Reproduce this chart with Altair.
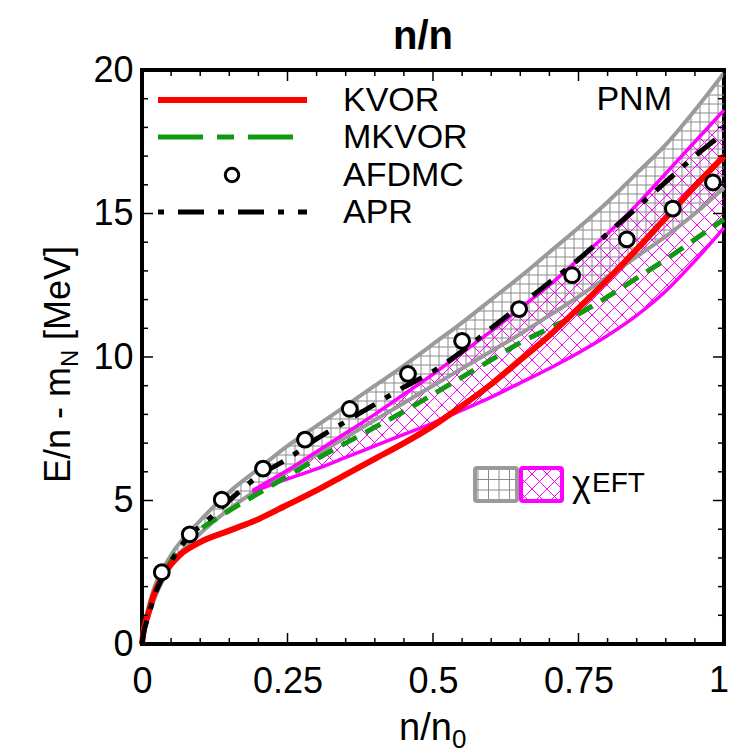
import altair as alt
import numpy as np
import pandas as pd

W, H = 582, 574
YMAX = 20.0
FONT = "Liberation Sans"

# ---------------- data ----------------
kvor_x = [0.0, 0.003, 0.01, 0.02, 0.04, 0.065, 0.1, 0.15, 0.2, 0.25, 0.3, 0.35, 0.4, 0.45,
          0.5, 0.55, 0.6, 0.65, 0.7, 0.75, 0.8, 0.85, 0.9, 0.95, 1.0]
kvor_y = [0.0, 0.5, 1.0, 1.7, 2.5, 3.1, 3.55, 3.95, 4.35, 4.85, 5.35, 5.9, 6.45, 7.0,
          7.6, 8.3, 9.05, 9.9, 10.75, 11.7, 12.7, 13.75, 14.85, 15.95, 17.0]

mkvor_x = [0.0, 0.003, 0.01, 0.02, 0.04, 0.06, 0.08, 0.1, 0.15, 0.2, 0.25, 0.3, 0.35, 0.4,
           0.45, 0.5, 0.55, 0.6, 0.65, 0.7, 0.75, 0.8, 0.85, 0.9, 0.95, 1.0]
mkvor_y = [0.0, 0.5, 1.0, 1.7, 2.55, 3.2, 3.7, 4.0, 4.65, 5.25, 5.85, 6.45, 7.0, 7.55,
           8.1, 8.7, 9.3, 9.9, 10.5, 11.0, 11.5, 12.1, 12.75, 13.4, 14.1, 14.8]

apr_x = [0.0, 0.003, 0.01, 0.02, 0.04, 0.06, 0.08, 0.1, 0.12, 0.15, 0.2, 0.25, 0.3, 0.35,
         0.4, 0.45, 0.5, 0.55, 0.6, 0.65, 0.7, 0.75, 0.8, 0.85, 0.9, 0.95, 1.0]
apr_y = [0.0, 0.4, 0.9, 1.6, 2.5, 3.2, 3.75, 4.1, 4.45, 5.0, 5.85, 6.45, 7.15, 7.75,
         8.35, 8.95, 9.5, 10.2, 11.0, 11.8, 12.6, 13.4, 14.3, 15.2, 16.1, 17.0, 17.8]

afdmc_x = [0.034, 0.082, 0.137, 0.208, 0.280, 0.357, 0.457, 0.550, 0.648, 0.739, 0.833, 0.912, 0.981]
afdmc_y = [2.50, 3.82, 5.03, 6.11, 7.12, 8.19, 9.41, 10.56, 11.67, 12.85, 14.10, 15.17, 16.08]

# chiEFT band 1 (grey, grid hatch)
gray_x = [0.0, 0.005, 0.01, 0.02, 0.05, 0.1, 0.15, 0.2, 0.25, 0.3, 0.35, 0.4, 0.45, 0.5,
          0.55, 0.6, 0.65, 0.7, 0.75, 0.8, 0.85, 0.9, 0.95, 1.0]
gray_lo = [0.0, 0.5, 0.9, 1.5, 2.75, 3.85, 4.7, 5.4, 6.0, 6.6, 7.2, 7.8, 8.4, 9.0,
           9.6, 10.2, 10.8, 11.45, 12.1, 12.8, 13.5, 14.2, 15.0, 15.9]
gray_hi = [0.0, 0.7, 1.2, 1.9, 3.1, 4.3, 5.3, 6.1, 6.9, 7.6, 8.3, 9.0, 9.7, 10.45,
           11.2, 12.0, 12.8, 13.65, 14.5, 15.4, 16.4, 17.4, 18.6, 19.9]

# chiEFT band 2 (magenta, cross hatch)
mag_x = [0.19, 0.25, 0.3, 0.35, 0.4, 0.45, 0.5, 0.55, 0.6, 0.65, 0.7, 0.75, 0.8, 0.85,
         0.9, 0.95, 1.0]
mag_lo = [5.3, 5.75, 6.1, 6.5, 6.9, 7.3, 7.7, 8.15, 8.6, 9.1, 9.6, 10.15, 10.75, 11.45,
          12.3, 13.35, 14.5]
mag_hi = [5.35, 6.05, 6.7, 7.35, 8.0, 8.7, 9.4, 10.15, 10.9, 11.7, 12.5, 13.4, 14.3, 15.3,
          16.4, 17.5, 18.6]

x_major = [0, 0.25, 0.5, 0.75, 1]
x_major_labels = ["0", "0.25", "0.5", "0.75", "1"]
x_minor = [0.05, 0.1, 0.15, 0.2, 0.3, 0.35, 0.4, 0.45, 0.55, 0.6, 0.65, 0.7, 0.8, 0.85, 0.9, 0.95]
y_major = [0, 5, 10, 15, 20]
y_minor = [1, 2, 3, 4, 6, 7, 8, 9, 11, 12, 13, 14, 16, 17, 18, 19]

legend_labels = ["KVOR", "MKVOR", "AFDMC", "APR"]

# ---------------- styling ----------------
RED = "#ff0000"
GREEN = "#119911"
GRAY = "#9a9a9a"
GRAY_HATCH = "#8a8a8a"
MAG = "#ff00ff"

XS = alt.Scale(domain=[0, 1], nice=False, zero=False)
YS = alt.Scale(domain=[0, YMAX], nice=False, zero=False)
XAX = alt.Axis(values=x_major[:-1], labelExpr="format(datum.value, '.2~f')", title=None,
               ticks=False, domain=False, grid=False,
               labelFontSize=36, labelFont=FONT, labelColor="black", labelPadding=20,
               labelFlush=False, labelOverlap=False)
YAX = alt.Axis(values=y_major, format="d", title=None, ticks=False, domain=False, grid=False,
               labelFontSize=36, labelFont=FONT, labelColor="black", labelPadding=9,
               labelFlush=False, labelOverlap=False)


def X(f):
    return alt.X(f, type="quantitative", scale=XS, axis=XAX)


def Y(f):
    return alt.Y(f, type="quantitative", scale=YS, axis=YAX)


# ---------------- hatch helpers (pixel space) ----------------
def runs_segments(Xp, Yl, LO, HI):
    segs = []
    m = (Yl >= LO) & (Yl <= HI)
    if not m.any():
        return segs
    idx = np.flatnonzero(m)
    br = np.where(np.diff(idx) > 1)[0]
    starts = np.r_[idx[0], idx[br + 1]]
    ends = np.r_[idx[br], idx[-1]]
    for s, e in zip(starts, ends):
        if e > s:
            segs.append((Xp[s], Yl[s], Xp[e], Yl[e]))
    return segs


def band_px(xd, lo, hi):
    xa = np.array(xd) * W
    Xp = np.linspace(xa[0], xa[-1], 4000)
    LO = np.interp(Xp, xa, np.array(lo) * H / YMAX)
    HI = np.interp(Xp, xa, np.array(hi) * H / YMAX)
    return Xp, LO, HI


def grid_hatch(Xp, LO, HI, step):
    segs = []
    for c in np.arange(step, H + W, step):
        segs += runs_segments(Xp, np.full_like(Xp, c), LO, HI)
    for k in np.arange(step, Xp[-1], step):
        if k < Xp[0]:
            continue
        lo = np.interp(k, Xp, LO)
        hi = np.interp(k, Xp, HI)
        if hi > lo:
            segs.append((k, lo, k, hi))
    return segs


def diag_hatch(Xp, LO, HI, step):
    segs = []
    for c in np.arange(-W - H, W + H, step):
        segs += runs_segments(Xp, Xp + c, LO, HI)
        segs += runs_segments(Xp, -Xp + c, LO, HI)
    return segs


def to_data(segs):
    return pd.DataFrame([
        {"x": a / W, "y": b * YMAX / H, "x2": c / W, "y2": d * YMAX / H}
        for a, b, c, d in segs
    ])


def legend_box_to_data(segs):
    # pixel coords with y measured downward from plot top
    return pd.DataFrame([
        {"x": a / W, "y": YMAX - b * YMAX / H, "x2": c / W, "y2": YMAX - d * YMAX / H}
        for a, b, c, d in segs
    ])


def hatch_layer(df, color, width=1.0):
    return alt.Chart(df).mark_rule(color=color, strokeWidth=width).encode(
        x=X("x"), y=Y("y"), x2="x2", y2="y2")


gXp, gLO, gHI = band_px(gray_x, gray_lo, gray_hi)
mXp, mLO, mHI = band_px(mag_x, mag_lo, mag_hi)
gray_hatch_df = to_data(grid_hatch(gXp, gLO, gHI, 9))
mag_hatch_df = to_data(diag_hatch(mXp, mLO, mHI, 15))

# legend swatch boxes (pixel, y down)
GB = (333, 375, 398, 431)
MB = (379, 420, 398, 431)
bx = np.linspace(GB[0], GB[1], 800)
gb_segs = grid_hatch(bx, np.full_like(bx, GB[2]), np.full_like(bx, GB[3]), 10.5)
mx = np.linspace(MB[0], MB[1], 800)
mb_segs = diag_hatch(mx, np.full_like(mx, MB[2]), np.full_like(mx, MB[3]), 15)

layers = []
layers.append(hatch_layer(gray_hatch_df, GRAY_HATCH, 1.0))
layers.append(hatch_layer(mag_hatch_df, MAG, 1.0))


def line_layer(xs, ys, color, width, dash=None, interp="monotone"):
    df = pd.DataFrame({"x": xs, "y": ys})
    kw = dict(color=color, strokeWidth=width, interpolate=interp)
    if dash:
        kw["strokeDash"] = dash
    return alt.Chart(df).mark_line(**kw).encode(x=X("x"), y=Y("y"))


layers.append(line_layer(gray_x, gray_lo, GRAY, 4))
layers.append(line_layer(gray_x, gray_hi, GRAY, 4))
layers.append(line_layer(mag_x, mag_lo, MAG, 3.5))
layers.append(line_layer(mag_x, mag_hi, MAG, 3.5))
layers.append(line_layer(mkvor_x, mkvor_y, GREEN, 5, dash=[17, 10]))
layers.append(line_layer(kvor_x, kvor_y, RED, 6))
layers.append(line_layer(apr_x, apr_y, "black", 5, dash=[24, 12, 6, 12]))

afdmc_df = pd.DataFrame({"x": afdmc_x, "y": afdmc_y})
layers.append(alt.Chart(afdmc_df).mark_point(shape="circle", filled=True, fill="white",
                                             stroke="black", strokeWidth=3, size=220,
                                             opacity=1).encode(x=X("x"), y=Y("y")))


# ---- ticks (inward, on all four sides) ----
def tick_layer(vals, axis, length):
    df = pd.DataFrame({"v": vals})
    out = []
    if axis == "x":
        out.append(alt.Chart(df).mark_rule(color="black", strokeWidth=1.5).encode(
            x=X("v"), y=alt.value(H), y2=alt.value(H - length)))
        out.append(alt.Chart(df).mark_rule(color="black", strokeWidth=1.5).encode(
            x=X("v"), y=alt.value(0), y2=alt.value(length)))
    else:
        out.append(alt.Chart(df).mark_rule(color="black", strokeWidth=1.5).encode(
            y=Y("v"), x=alt.value(0), x2=alt.value(length)))
        out.append(alt.Chart(df).mark_rule(color="black", strokeWidth=1.5).encode(
            y=Y("v"), x=alt.value(W), x2=alt.value(W - length)))
    return out


layers += tick_layer(x_major, "x", 11)
layers += tick_layer(x_minor, "x", 6)
layers += tick_layer(y_major, "y", 11)
layers += tick_layer(y_minor, "y", 6)

one = pd.DataFrame({"a": [0]})

# last x tick label, kept inside the picture
layers.append(alt.Chart(one).mark_text(text=x_major_labels[-1], align="right", baseline="top",
                                       font=FONT, fontSize=36, color="black").encode(
    x=alt.value(W + 5), y=alt.value(H + 20)))

# ---- legend (top-left) ----
LX0, LX1 = 16, 165
rows_y = [30, 67, 105, 142]
layers.append(alt.Chart(one).mark_rule(color=RED, strokeWidth=6).encode(
    x=alt.value(LX0), x2=alt.value(LX1), y=alt.value(rows_y[0])))
layers.append(alt.Chart(one).mark_rule(color=GREEN, strokeWidth=5, strokeDash=[45, 14, 17, 14]).encode(
    x=alt.value(LX0), x2=alt.value(155), y=alt.value(rows_y[1])))
layers.append(alt.Chart(one).mark_point(shape="circle", filled=True, fill="white", stroke="black",
                                        strokeWidth=3, size=180, opacity=1).encode(
    x=alt.value(90), y=alt.value(rows_y[2])))
layers.append(alt.Chart(one).mark_rule(color="black", strokeWidth=5, strokeDash=[6, 14, 26, 14]).encode(
    x=alt.value(LX0), x2=alt.value(LX1), y=alt.value(rows_y[3])))
for lab, yy in zip(legend_labels, rows_y):
    layers.append(alt.Chart(one).mark_text(text=lab, align="left", baseline="middle", font=FONT,
                                           fontSize=34, color="black").encode(
        x=alt.value(201), y=alt.value(yy + 1)))

layers.append(alt.Chart(one).mark_text(text="PNM", align="right", baseline="middle", font=FONT,
                                       fontSize=34, color="black").encode(
    x=alt.value(530), y=alt.value(30)))

# chiEFT swatches
layers.append(alt.Chart(one).mark_rect(fill="white").encode(
    x=alt.value(GB[0]), x2=alt.value(MB[1]), y=alt.value(GB[2]), y2=alt.value(GB[3])))
layers.append(hatch_layer(legend_box_to_data(gb_segs), GRAY_HATCH, 1.0))
layers.append(hatch_layer(legend_box_to_data(mb_segs), MAG, 1.0))
layers.append(alt.Chart(one).mark_rect(fillOpacity=0, stroke=GRAY, strokeWidth=4, cornerRadius=2).encode(
    x=alt.value(GB[0]), x2=alt.value(GB[1]), y=alt.value(GB[2]), y2=alt.value(GB[3])))
layers.append(alt.Chart(one).mark_rect(fillOpacity=0, stroke=MAG, strokeWidth=4, cornerRadius=2).encode(
    x=alt.value(MB[0]), x2=alt.value(MB[1]), y=alt.value(MB[2]), y2=alt.value(MB[3])))
layers.append(alt.Chart(one).mark_text(text="\u03c7", align="left", baseline="alphabetic", font=FONT,
                                       fontSize=36, color="black").encode(
    x=alt.value(430), y=alt.value(426)))
layers.append(alt.Chart(one).mark_text(text="EFT", align="left", baseline="alphabetic", font=FONT,
                                       fontSize=28, color="black").encode(
    x=alt.value(450), y=alt.value(422)))

# ---- axis titles ----
layers.append(alt.Chart(one).mark_text(text="n/n", align="left", baseline="alphabetic", font=FONT,
                                       fontSize=40, fontWeight="bold", color="black").encode(
    x=alt.value(251), y=alt.value(-21)))
layers.append(alt.Chart(one).mark_text(text="n/n", align="left", baseline="alphabetic", font=FONT,
                                       fontSize=38, color="black").encode(
    x=alt.value(257), y=alt.value(670)))
layers.append(alt.Chart(one).mark_text(text="0", align="left", baseline="alphabetic", font=FONT,
                                       fontSize=26, color="black").encode(
    x=alt.value(310), y=alt.value(678)))
# y title (rotated, reads bottom to top)
YT_X = -72
layers.append(alt.Chart(one).mark_text(text="E/n - m", angle=270, align="left", baseline="alphabetic",
                                       font=FONT, fontSize=36, color="black").encode(
    x=alt.value(YT_X), y=alt.value(413)))
layers.append(alt.Chart(one).mark_text(text="N", angle=270, align="left", baseline="alphabetic",
                                       font=FONT, fontSize=24, color="black").encode(
    x=alt.value(YT_X + 8), y=alt.value(297)))
layers.append(alt.Chart(one).mark_text(text="[MeV]", angle=270, align="left", baseline="alphabetic",
                                       font=FONT, fontSize=36, color="black").encode(
    x=alt.value(YT_X), y=alt.value(270)))

chart = alt.layer(*layers).properties(
    width=W, height=H,
    padding={"left": 142, "top": 70, "right": 6, "bottom": 109},
    autosize=alt.AutoSizeParams(type="none"),
    background="white",
).configure_view(stroke="black", strokeWidth=4)

chart.save("out.html", embed_options={"renderer": "svg", "actions": False})
